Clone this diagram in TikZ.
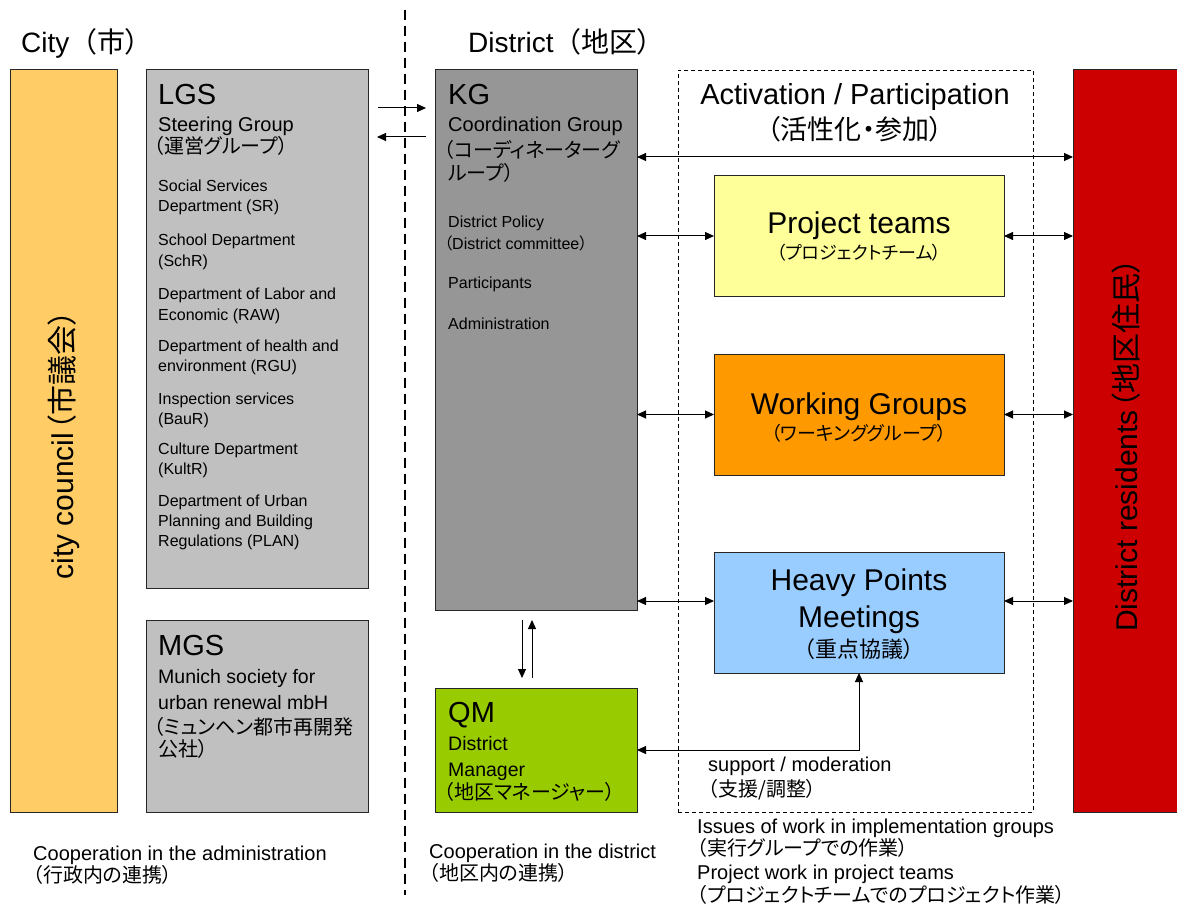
\documentclass[tikz,border=0pt]{standalone}
\usepackage{fontspec}
\setmainfont{Liberation Sans}
\newfontfamily\jp{Noto Sans CJK JP}[RawFeature={+palt}]
\newfontfamily\jpf{Noto Sans CJK JP}
\usetikzlibrary{arrows.meta}
\newcommand\fs[1]{\fontsize{#1}{#1}\selectfont}
\newcommand\J[1]{{\jp #1}}
\definecolor{ccY}{HTML}{FFCC66}
\definecolor{lgsG}{HTML}{C0C0C0}
\definecolor{kgG}{HTML}{969696}
\definecolor{qmG}{HTML}{99CC00}
\definecolor{ptY}{HTML}{FFFF99}
\definecolor{wgO}{HTML}{FF9900}
\definecolor{hpB}{HTML}{99CCFF}
\definecolor{resR}{HTML}{CC0000}
\begin{document}
\begin{tikzpicture}[x=1pt,y=-1pt,
  box/.style={draw=black!85, line width=1pt, inner sep=0, outer sep=0},
  tl/.style={inner sep=0, anchor=base west},
  tc/.style={inner sep=0, anchor=base},
  arr/.style={line width=1pt, -{Triangle[length=9pt,width=8pt]}},
  darr/.style={line width=1pt, {Triangle[length=9pt,width=8pt]}-{Triangle[length=9pt,width=8pt]}},
  big/.style={font=\fs{29}},
  sub/.style={font=\fs{20}},
  small/.style={font=\fs{16}},
  jpl/.style={font=\fs{20}\jp},
]
\useasboundingbox (0,0) rectangle (1177,909);
\fill[white] (0,0) rectangle (1177,909);

% separator
\coordinate (sepTop) at (405,10);
\coordinate (sepBot) at (405,895);
\draw[line width=2.4pt, dash pattern=on 10pt off 6pt] (sepTop) -- (sepBot);

% titles
\node[tl, font=\fs{28}] (cityT) at (21,53) {City{\jpf （}\J{市）}};
\node[tl, font=\fs{28}] (distT) at (468,53) {District{\jpf （}\J{地区）}};

% boxes
\node[box, fill=ccY, minimum width=107, minimum height=742] (CC) at (63.5,441) {};
\node[box, fill=lgsG, minimum width=222, minimum height=518] (LGS) at (257,329) {};
\node[box, fill=lgsG, minimum width=222, minimum height=192] (MGS) at (257,716) {};
\node[box, fill=kgG, minimum width=202, minimum height=540] (KG) at (536,340) {};
\node[box, fill=qmG, minimum width=202, minimum height=124] (QM) at (536,750) {};
\node[draw, line width=0.8pt, dash pattern=on 4pt off 3pt, inner sep=0, outer sep=0,
      minimum width=355, minimum height=742] (Act) at (855.5,441) {};
\node[box, fill=resR, minimum width=108, minimum height=742] (Res) at (1127,441) {};
\node[box, fill=ptY, minimum width=290, minimum height=120] (PT) at (859,236) {};
\node[box, fill=wgO, minimum width=290, minimum height=121] (WG) at (859,414.5) {};
\node[box, fill=hpB, minimum width=290, minimum height=121] (HPM) at (859,612.5) {};

% rotated labels
\node[inner sep=0, rotate=90, font=\fs{30}] (ccT) at (64,445) {city council\kern2pt\J{（市議会）}};
\node[inner sep=0, rotate=90, font=\fs{30}] (resT) at (1126,445) {District residents\kern2pt\J{（地区住民）}};

% LGS text
\node[tl, big] (lgs0) at (158,105) {LGS};
\node[tl, sub] (lgs1) at (158,132) {Steering Group};
\node[tl, jpl] (lgs2) at (154,154) {（運営グループ）};
\node[tl, small] (lgs3) at (158,192) {Social Services};
\node[tl, small] (lgs4) at (158,212) {Department (SR)};
\node[tl, small] (lgs5) at (158,246) {School Department};
\node[tl, small] (lgs6) at (158,266) {(SchR)};
\node[tl, small] (lgs7) at (158,299) {Department of Labor and};
\node[tl, small] (lgs8) at (158,320) {Economic (RAW)};
\node[tl, small] (lgs9) at (158,351) {Department of health and};
\node[tl, small] (lgs10) at (158,371) {environment (RGU)};
\node[tl, small] (lgs11) at (158,404) {Inspection services};
\node[tl, small] (lgs12) at (158,424) {(BauR)};
\node[tl, small] (lgs13) at (158,454) {Culture Department};
\node[tl, small] (lgs14) at (158,474) {(KultR)};
\node[tl, small] (lgs15) at (158,506) {Department of Urban};
\node[tl, small] (lgs16) at (158,526) {Planning and Building};
\node[tl, small] (lgs17) at (158,546) {Regulations (PLAN)};

% MGS text
\node[tl, big] (mgs0) at (158,655) {MGS};
\node[tl, font=\fs{19.5}] (mgs1) at (158,683) {Munich society for};
\node[tl, font=\fs{19.5}] (mgs2) at (158,709) {urban renewal mbH};
\node[tl, jpl] (mgs3) at (154,734) {（ミュンヘン都市再開発};
\node[tl, jpl] (mgs4) at (158,756) {公社）};

% KG text
\node[tl, big] (kg0) at (448,105) {KG};
\node[tl, sub] (kg1) at (448,132) {Coordination Group};
\node[tl, jpl] (kg2) at (444,158) {（コーディネーターグ};
\node[tl, jpl] (kg3) at (448,181) {ループ）};
\node[tl, small] (kg4) at (448,228) {District Policy};
\node[tl, small] (kg5) at (444,250) {\J{（}District committee\J{）}};
\node[tl, small] (kg6) at (448,288) {Participants};
\node[tl, small] (kg7) at (448,329) {Administration};

% QM text
\node[tl, big] (qm0) at (448,722) {QM};
\node[tl, font=\fs{19.5}] (qm1) at (448,750) {District};
\node[tl, font=\fs{19.5}] (qm2) at (448,776) {Manager};
\node[tl, jpl] (qm3) at (444,799) {（地区マネージャー）};

% Activation text
\node[tc, font=\fs{29}] (act0) at (855,105) {Activation / Participation};
\node[tc, font=\fs{27}\jp] (act1) at (855,140) {（活性化・参加）};

% PT / WG / HPM text
\node[tc, font=\fs{30}] (pt0) at (859,234) {Project teams};
\node[tc, font=\fs{18}\jp] (pt1) at (859,260) {（プロジェクトチーム）};
\node[tc, font=\fs{30}] (wg0) at (859,414) {Working Groups};
\node[tc, font=\fs{19}\jp] (wg1) at (859,440) {（ワーキンググループ）};
\node[tc, font=\fs{30}] (hp0) at (859,590) {Heavy Points};
\node[tc, font=\fs{30}] (hp1) at (859,627) {Meetings};
\node[tc, font=\fs{22}\jp] (hp2) at (859,657) {（重点協議）};

% bottom texts
\node[tl, sub] (b1) at (33,860) {Cooperation in the administration};
\node[tl, jpl] (b2) at (33,882) {（行政内の連携）};
\node[tl, sub] (b3) at (429,858) {Cooperation in the district};
\node[tl, jpl] (b4) at (429,880) {（地区内の連携）};
\node[tl, sub] (s1) at (708,771) {support / moderation};
\node[tl, jpl] (s2) at (708,796) {（支援/調整）};
\node[tl, sub] (i1) at (697,833) {Issues of work in implementation groups};
\node[tl, jpl] (i2) at (697,855) {（実行グループでの作業）};
\node[tl, sub] (i3) at (697,879) {Project work in project teams};
\node[tl, jpl] (i4) at (697,902) {（プロジェクトチームでのプロジェクト作業）};

% arrows LGS <-> KG
\coordinate (a1s) at (378,108);
\coordinate (a1e) at (426,108);
\coordinate (a2s) at (426,137);
\coordinate (a2e) at (377,137);
\draw[arr] (a1s) -- (a1e);
\draw[arr] (a2s) -- (a2e);

% KG <-> residents and groups
\coordinate (y157) at (0,157);
\coordinate (y601) at (0,601);
\draw[darr] (KG.east |- y157) -- (Res.west |- y157);
\draw[darr] (KG.east |- PT.west) -- (PT.west);
\draw[darr] (PT.east) -- (Res.west |- PT.east);
\draw[darr] (KG.east |- WG.west) -- (WG.west);
\draw[darr] (WG.east) -- (Res.west |- WG.east);
\draw[darr] (KG.east |- y601) -- (HPM.west |- y601);
\draw[darr] (HPM.east |- y601) -- (Res.west |- y601);

% KG <-> QM
\coordinate (d1) at (522,620);
\coordinate (d2) at (522,678);
\coordinate (u1) at (532,678);
\coordinate (u2) at (532,620);
\draw[arr] (d1) -- (d2);
\draw[arr] (u1) -- (u2);

% support / moderation
\draw[darr] (QM.east) -| (HPM.south);
\end{tikzpicture}
\end{document}
